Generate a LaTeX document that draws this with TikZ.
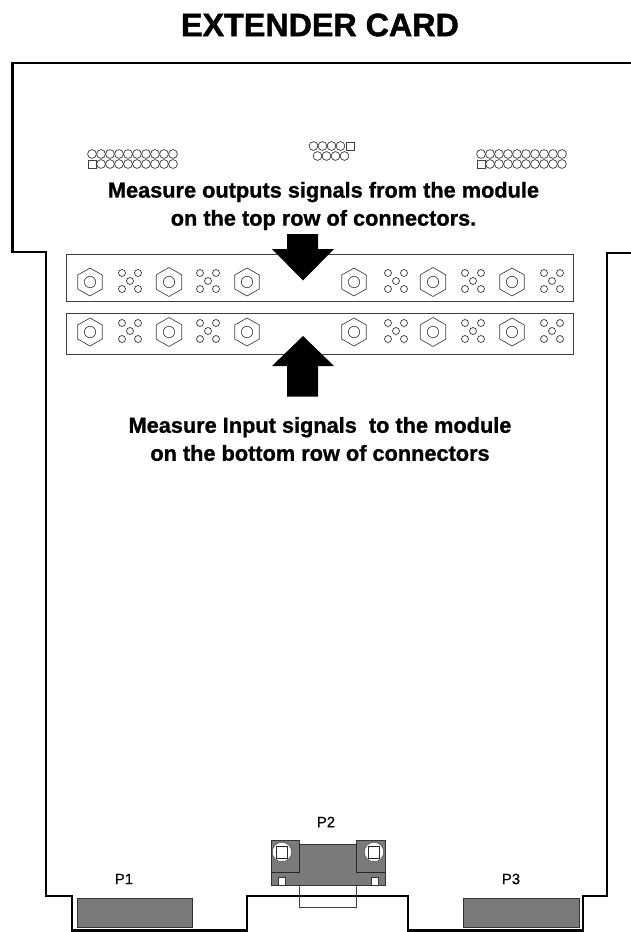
\documentclass[tikz,border=0pt]{standalone}
\usepackage{fontspec}
\newfontfamily\titlefont{Liberation Sans Bold}[FakeBold=1.4]
\newfontfamily\capfont{Liberation Sans Bold}[FakeBold=1.0]
\newfontfamily\labfont{Liberation Sans}[FakeBold=0.5]
\tikzset{
  board/.style={line width=1.9pt,black,miter limit=10},
  thin line/.style={line width=0.5pt,draw=black!75},
  pin/.style={line width=0.55pt,draw=black!75},
  bar/.style={line width=0.7pt,draw=black!75},
  conn/.style={fill=black!52,draw=black!80,line width=0.7pt},
  caption/.style={font=\capfont\fontsize{16.3}{21}\selectfont,align=center,text=black,inner sep=0pt},
  plabel/.style={font=\labfont\fontsize{11.2}{13}\selectfont,text=black,inner sep=0pt},
  bigarrow/.style={fill=black,draw=none}
}
\newcommand{\hexnut}[3]{%
  \draw[thin line] (#1,#2-#3) -- (#1+0.88*#3,#2-0.5*#3) -- (#1+0.88*#3,#2+0.5*#3) -- (#1,#2+#3) -- (#1-0.88*#3,#2+0.5*#3) -- (#1-0.88*#3,#2-0.5*#3) -- cycle;
  \draw[thin line] (#1,#2) circle[radius=5.7];
}
\newcommand{\cluster}[2]{%
  \foreach \dx/\dy in {-8/-8,8/-8,0/0,-8/8,8/8}
    \draw[pin] (#1+\dx,#2+\dy) circle[radius=3.5];
}
\begin{document}
\begin{tikzpicture}[x=0.75pt,y=-0.75pt]
\useasboundingbox (0,0) rectangle (631,932);
\node[font=\titlefont\fontsize{24.2}{28}\selectfont,inner sep=0pt] (title) at (320,25) {EXTENDER CARD};
% board outline
\draw[board] (631,63) -- (12.5,63) -- (12.5,252) -- (46,252) -- (46,896) -- (72,896) -- (72,930.5) -- (247,930.5) -- (247,896) -- (408,896) -- (408,930.5) -- (583,930.5) -- (583,896) -- (607,896) -- (607,253) -- (631,253);
% headers
\foreach \i in {0,...,9} {
  \draw[pin] (92+9*\i,154) circle[radius=4.4];
  \draw[pin] (481+9*\i,154) circle[radius=4.4];
  \ifnum\i>0
    \draw[pin] (92+9*\i,164) circle[radius=4.4];
    \draw[pin] (481+9*\i,164) circle[radius=4.4];
  \fi
}
\draw[pin] (88,160) rectangle (96,168);
\draw[pin] (477,160) rectangle (485,168);
\foreach \i in {0,...,3} {
  \draw[pin] (313.5+9*\i,146) circle[radius=4.4];
  \draw[pin] (317.5+9*\i,156) circle[radius=4.4];
}
\draw[pin] (346,142) rectangle (354,150);
% captions
\node[caption] (top caption) at (323.5,206) {Measure outputs signals from the module\\on the top row of connectors.};
\node[caption] (bottom caption) at (320,439) {Measure Input signals\ \ to the module\\on the bottom row of connectors};
% connector strips
\draw[bar] (66,254) rectangle (573,301);
\draw[bar] (66,313) rectangle (573,354);
\foreach \x/\r in {90/14,169/14.5,247/14,354/14,433/14.5,512/14} {
  \hexnut{\x}{282}{\r}
  \hexnut{\x}{332}{\r}
}
\foreach \x in {130,208,396,473,552} {
  \cluster{\x}{281}
  \cluster{\x}{331}
}
% arrows
\draw[bigarrow] (287,234) -- (318,234) -- (318,249) -- (334,249) -- (303,280.5) -- (272,249) -- (287,249) -- cycle;
\draw[bigarrow] (287,396.5) -- (318,396.5) -- (318,366) -- (334,366) -- (303,336) -- (272,366) -- (287,366) -- cycle;
% P1 and P3
\draw[conn] (77,898) rectangle (192,927);
\draw[conn] (463,898) rectangle (579,927);
\node[plabel] (p1) at (124,879) {P1};
\node[plabel] (p3) at (511,879) {P3};
\node[plabel] (p2) at (326,822) {P2};
% P2
\draw[thin line] (299,884) -- (299,907) -- (356,907) -- (356,884);
\draw[conn] (271,840) -- (299,840) -- (299,844) -- (356,844) -- (356,840) -- (385,840) -- (385,885) -- (271,885) -- cycle;
\draw[line width=0.6pt,draw=black!85] (271,872) -- (299,872) -- (299,844);
\draw[line width=0.6pt,draw=black!85] (385,872) -- (356,872) -- (356,844);
\foreach \x in {278,371} \draw[line width=0.5pt,draw=black!80,fill=white] (\x,877.5) rectangle (\x+7.5,885);
\foreach \x in {282,374} {
  \draw[line width=0.4pt,draw=black!70,fill=white] (\x,852) circle[radius=9.7];
  \draw[line width=0.5pt,draw=black!85] (\x-5.5,846) rectangle (\x+5.5,858);
}
\end{tikzpicture}
\end{document}
